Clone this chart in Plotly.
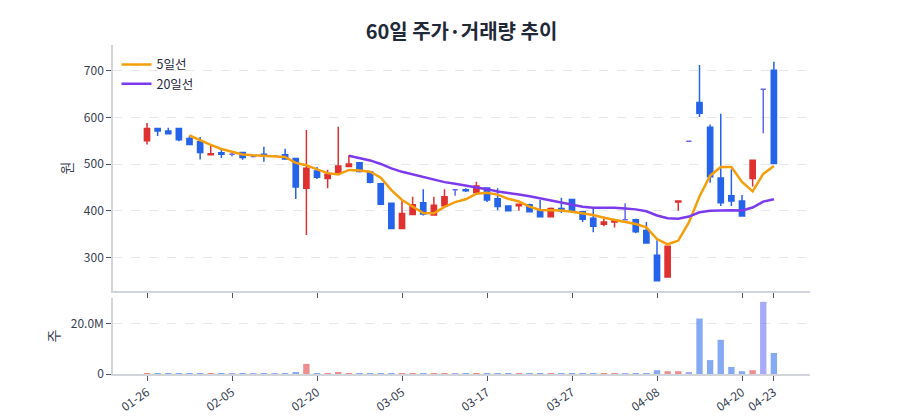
import plotly.graph_objects as go
import pandas as pd

# ---- data ----
dates = ["01-26", "01-27", "01-28", "01-29", "01-30", "02-02", "02-03", "02-04", "02-05", "02-06",
         "02-09", "02-10", "02-11", "02-12", "02-13", "02-19", "02-20", "02-23", "02-24", "02-25",
         "02-26", "02-27", "03-03", "03-04", "03-05", "03-06", "03-09", "03-10", "03-11", "03-12",
         "03-13", "03-16", "03-17", "03-18", "03-19", "03-20", "03-23", "03-24", "03-25", "03-26",
         "03-27", "03-30", "03-31", "04-01", "04-02", "04-03", "04-06", "04-07", "04-08", "04-09",
         "04-10", "04-13", "04-14", "04-15", "04-16", "04-17", "04-20", "04-21", "04-22", "04-23"]

opens = [550, 576, 571, 576, 555, 548, 520, 524, 521, 525,
         516, 521, 518, 520, 512, 448, 485, 469, 481, 495,
         503, 483, 458, 416, 362, 392, 417, 391, 411, 445,
         445, 439, 449, 426, 410, 411, 413, 401, 387, 405,
         424, 398, 384, 371, 376, 381, 381, 358, 305, 258,
         419, 549, 632, 579, 470, 432, 421, 469, 660, 701]
highs = [588, 578, 578, 577, 561, 558, 540, 530, 524, 526,
         517, 537, 518, 533, 513, 573, 494, 488, 580, 519,
         504, 484, 460, 417, 421, 430, 446, 430, 446, 446,
         448, 462, 450, 448, 410, 414, 415, 423, 407, 428,
         425, 399, 405, 388, 380, 416, 383, 376, 337, 325,
         421, 549, 712, 585, 608, 489, 434, 509, 660, 719]
lows = [542, 560, 565, 549, 541, 510, 520, 513, 516, 509,
        514, 505, 518, 511, 425, 348, 468, 448, 480, 495,
        482, 459, 413, 362, 362, 391, 390, 390, 410, 432,
        440, 439, 419, 401, 399, 400, 397, 386, 387, 395,
        400, 376, 354, 367, 364, 379, 352, 330, 249, 257,
        400, 549, 601, 460, 410, 410, 388, 452, 566, 500]
closes = [576, 571, 565, 552, 542, 525, 522, 521, 521, 514,
          516, 517, 518, 511, 451, 491, 472, 478, 496, 500,
          484, 461, 414, 362, 394, 413, 393, 412, 430, 445,
          443, 453, 423, 409, 400, 414, 398, 387, 405, 400,
          400, 382, 367, 376, 380, 381, 355, 331, 250, 324,
          421, 549, 609, 473, 417, 421, 389, 508, 660, 501]
volumes = [250000, 20000, 20000, 200000, 20000, 20000, 20000, 20000, 20000, 20000,
           20000, 20000, 20000, 20000, 600000, 4000000, 250000, 20000, 600000, 20000,
           20000, 20000, 200000, 20000, 200000, 20000, 20000, 20000, 20000, 20000,
           20000, 20000, 20000, 20000, 20000, 20000, 20000, 200000, 20000, 20000,
           20000, 20000, 200000, 20000, 20000, 200000, 20000, 200000, 1500000, 1100000,
           1100000, 500000, 21900000, 5500000, 13500000, 2800000, 1100000, 1500000, 28500000, 8300000]

tick_idx = [0, 8, 16, 24, 32, 40, 48, 56, 59]
tick_labels = [dates[i] for i in tick_idx]

UP = "#e03131"
DOWN = "#2563eb"
FLAT = "#6366f1"
MA5_C = "#f59e0b"
MA20_C = "#7c3aed"
FONT = "Noto Sans CJK KR, Noto Sans, sans-serif"

df = pd.DataFrame({"date": dates, "open": opens, "high": highs, "low": lows,
                   "close": closes, "volume": volumes})
df["ma5"] = df["close"].rolling(5).mean()
df["ma20"] = df["close"].rolling(20).mean()


def direction(o, c):
    if c > o:
        return "up"
    if c < o:
        return "down"
    return "flat"


df["dir"] = [direction(o, c) for o, c in zip(df["open"], df["close"])]
color_map = {"up": UP, "down": DOWN, "flat": FLAT}

fig = go.Figure()
for key in ["up", "down", "flat"]:
    sub = df[df["dir"] == key]
    c = color_map[key]
    fig.add_trace(go.Candlestick(
        x=sub["date"], open=sub["open"], high=sub["high"], low=sub["low"], close=sub["close"],
        increasing=dict(line=dict(color=c, width=1.5), fillcolor=c),
        decreasing=dict(line=dict(color=c, width=1.5), fillcolor=c),
        showlegend=False, hoverinfo="skip", xaxis="x", yaxis="y"))

fig.add_trace(go.Scatter(x=df["date"], y=df["ma5"], mode="lines", name="5일선",
                         line=dict(color=MA5_C, width=2.5), xaxis="x", yaxis="y"))
fig.add_trace(go.Scatter(x=df["date"], y=df["ma20"], mode="lines", name="20일선",
                         line=dict(color=MA20_C, width=2.5), xaxis="x", yaxis="y"))

fig.add_trace(go.Bar(x=df["date"], y=df["volume"],
                     marker=dict(color=[color_map[d] for d in df["dir"]], line=dict(width=0)),
                     opacity=0.55, showlegend=False, xaxis="x2", yaxis="y2"))

axis_common = dict(type="category", categoryorder="array", categoryarray=dates,
                   range=[-3.2, 62.4], showgrid=False, showline=True, linecolor="#d1d5db",
                   linewidth=1.5, ticks="outside", ticklen=5, tickcolor="#4b5563",
                   tickvals=tick_labels, ticktext=tick_labels, automargin=False,
                   tickfont=dict(size=12, color="#374151", family=FONT))

fig.update_layout(
    width=900, height=420,
    margin=dict(l=113, r=90, t=45, b=46, autoexpand=False),
    paper_bgcolor="white", plot_bgcolor="white",
    font=dict(family=FONT, color="#374151"),
    title=dict(text="<b>60일 주가·거래량 추이</b>", x=0.5, xanchor="center", xref="paper",
               y=1 - 32 / 420, yanchor="middle", yref="container",
               font=dict(size=20, color="#1f2937", family=FONT)),
    xaxis=dict(axis_common, anchor="y", showticklabels=False, rangeslider=dict(visible=False)),
    xaxis2=dict(axis_common, anchor="y2", matches="x", tickangle=-35),
    yaxis=dict(domain=[0.252, 1], range=[228, 755], showgrid=True, gridcolor="#e5e7eb",
               griddash="dash", gridwidth=1, zeroline=False, showline=True, linecolor="#d1d5db",
               linewidth=1.5, ticks="outside", ticklen=5, tickcolor="#4b5563",
               tickvals=[300, 400, 500, 600, 700], automargin=False,
               tickfont=dict(size=12, color="#374151"),
               title=dict(text="원", font=dict(size=14, color="#374151"), standoff=8)),
    yaxis2=dict(domain=[0, 0.231], range=[0, 30000000], showgrid=True, gridcolor="#e5e7eb",
                griddash="dash", gridwidth=1, zeroline=False, showline=True, linecolor="#d1d5db",
                linewidth=1.5, ticks="outside", ticklen=5, tickcolor="#4b5563",
                tickvals=[0, 20000000], ticktext=["0", "20.0M"], automargin=False,
                tickfont=dict(size=12, color="#374151"),
                title=dict(text="주", font=dict(size=14, color="#374151"), standoff=8)),
    legend=dict(x=0.005, y=0.985, xanchor="left", yanchor="top", bgcolor="rgba(255,255,255,0)",
                font=dict(size=12.5, color="#1f2937")),
    bargap=0.4,
    showlegend=True,
)

fig.write_html("out.html")
